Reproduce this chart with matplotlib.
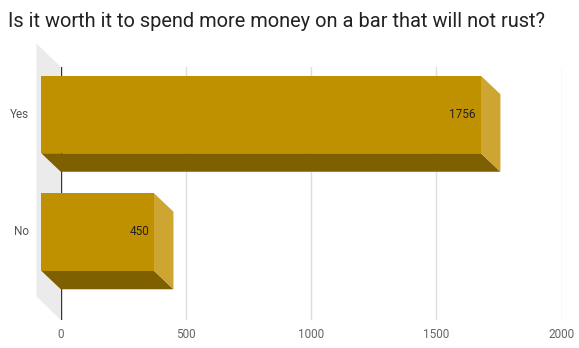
import matplotlib
matplotlib.use("Agg")
import matplotlib.pyplot as plt
from matplotlib.patches import Polygon, Rectangle

plt.rcParams['font.family'] = ['Roboto', 'DejaVu Sans']

title = "Is it worth it to spend more money on a bar that will not rust?"
answers = ["Yes", "No"]
counts = [1756, 450]
xticks = [0, 500, 1000, 1500, 2000]

W, H = 579, 348
fig = plt.figure(figsize=(W / 100, H / 100), dpi=100)

# plot area = back plane of the 3d scene (pixel box)
left_px, right_px, top_px, bot_px = 60.8, 561.5, 67, 320
ax = fig.add_axes([left_px / W, 1 - bot_px / H,
                   (right_px - left_px) / W, (bot_px - top_px) / H])
ax.set_xlim(0, 2000)
ax.set_ylim(-0.5915, 1.5617)

# pixel -> data conversions for the depth offsets
px_x = (right_px - left_px) / 2000.0
px_y = (bot_px - top_px) / (1.5617 + 0.5915)
bar_dx, bar_dy = -19.5 / px_x, 18.5 / px_y
wall_dx, wall_dy = -24.3 / px_x, 23.5 / px_y

front_col = "#bf9000"
bottom_col = "#7f6000"
side_col = "#cfa531"
wall_col = "#ebebeb"

y0, y1 = ax.get_ylim()
ax.add_patch(Polygon([(0, y0), (0, y1), (wall_dx, y1 + wall_dy), (wall_dx, y0 + wall_dy)],
                     closed=True, facecolor=wall_col, edgecolor="none",
                     clip_on=False, zorder=0))

for x in xticks:
    ax.axvline(x, color="#333333" if x == 0 else "#dddddd", lw=1, zorder=1)

pos = [1, 0]
half = 0.33
for cat, val, c in zip(answers, counts, pos):
    lo, hi = c - half, c + half
    ax.add_patch(Polygon([(bar_dx, lo + bar_dy), (val + bar_dx, lo + bar_dy), (val, lo), (0, lo)],
                         closed=True, facecolor=bottom_col, edgecolor="none",
                         clip_on=False, zorder=3))
    ax.add_patch(Polygon([(val + bar_dx, lo + bar_dy), (val + bar_dx, hi + bar_dy), (val, hi), (val, lo)],
                         closed=True, facecolor=side_col, edgecolor="none",
                         clip_on=False, zorder=3))
    ax.add_patch(Rectangle((bar_dx, lo + bar_dy), val, 2 * half,
                           facecolor=front_col, edgecolor="none",
                           clip_on=False, zorder=4))
    ax.text(val + bar_dx - 5 / px_x, c + bar_dy, str(val), ha="right", va="center",
            fontsize=8.5, color="#222222", zorder=5)
    ax.text(-32 / px_x, c + bar_dy, cat, ha="right", va="center",
            fontsize=8.5, color="#555555", clip_on=False)

ax.set_xticks(xticks)
ax.set_xticklabels([str(x) for x in xticks], fontsize=8.5, color="#666666")
ax.tick_params(axis="x", length=0, pad=6)
ax.set_yticks([])
for s in ax.spines.values():
    s.set_visible(False)
ax.patch.set_alpha(0)

fig.text(8 / W, 1 - 27 / H, title, ha="left", va="baseline", fontsize=14.4, color="#222222")

fig.savefig("out.png", dpi=100)
